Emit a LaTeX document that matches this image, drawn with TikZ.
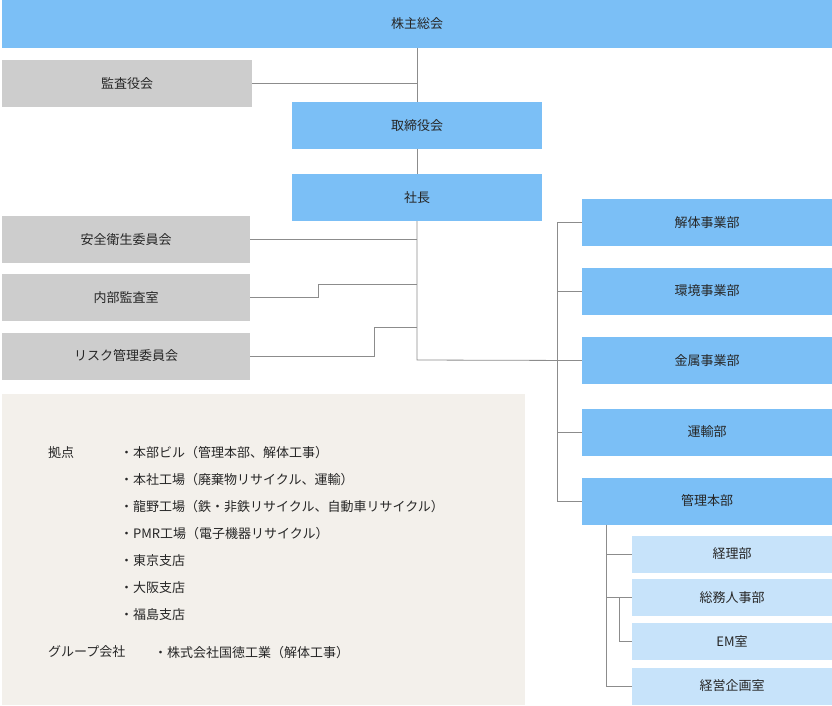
\documentclass[tikz,border=0pt]{standalone}
\usepackage{fontspec}
\setmainfont{Noto Sans CJK JP}
\begin{document}
\begin{tikzpicture}[x=1pt,y=-1pt,
  bx/.style={draw=none,minimum height=47pt,inner sep=0pt,font=\fontsize{13}{15}\selectfont,text=black!85},
  blue/.style={bx,fill=bl},
  gray/.style={bx,fill=gr},
  sub/.style={bx,fill=lb,minimum width=200pt,minimum height=37pt},
  ln/.style={draw=black!45,line width=0.8pt},
  tx/.style={anchor=west,inner sep=0pt,font=\fontsize{13}{15}\selectfont,text=black!85}]
\definecolor{bl}{HTML}{7BBFF6}
\definecolor{lb}{HTML}{C7E3FA}
\definecolor{gr}{HTML}{CDCDCD}
\definecolor{bg}{HTML}{F3F0EB}
\useasboundingbox (0,0) rectangle (832,705);
\fill[bg] (2,394) rectangle (525,705);
\node[blue,minimum width=830pt,minimum height=48pt] (sh) at (417,24) {株主総会};
\node[gray,minimum width=250pt] (ka) at (127,83.5) {監査役会};
\node[blue,minimum width=250pt] (tr) at (417,125.5) {取締役会};
\node[blue,minimum width=250pt] (pr) at (417,197.5) {社長};
\node[gray,minimum width=248pt] (an) at (126,239.5) {安全衛生委員会};
\node[gray,minimum width=248pt] (na) at (126,297.5) {内部監査室};
\node[gray,minimum width=248pt] (ri) at (126,356) {リスク管理委員会};
\node[blue,minimum width=250pt] (r1) at (707,222.5) {解体事業部};
\node[blue,minimum width=250pt] (r2) at (707,291) {環境事業部};
\node[blue,minimum width=250pt] (r3) at (707,360.5) {金属事業部};
\node[blue,minimum width=250pt] (r4) at (707,432) {運輸部};
\node[blue,minimum width=250pt] (r5) at (707,501) {管理本部};
\node[sub] (s1) at (732,554) {経理部};
\node[sub] (s2) at (732,597.5) {総務人事部};
\node[sub] (s3) at (732,641.5) {EM室};
\node[sub] (s4) at (732,686) {経営企画室};
\coordinate (m) at (417,360);
\draw[ln] (sh.south) -- (tr.north);
\draw[ln] (ka.east) -- (ka.east -| sh.south);
\draw[ln] (tr.south) -- (pr.north);
\draw[ln] (pr.south) -- (m) -- (r3.west);
\draw[ln] (an.east) -- (an.east -| m);
\draw[ln] (na.east) -- (318,297.5) -- (318,284) -- (417,284);
\draw[ln] (ri.east) -- (374,356) -- (374,327) -- (417,327);
\draw[ln] (r1.west) -- (557,222.5) -- (557,501) -- (r5.west);
\draw[ln] (r2.west) -- (557,291);
\draw[ln] (r4.west) -- (557,432);
\draw[ln] (606,524.5) -- (606,686) -- (s4.west);
\draw[ln] (s1.west) -- (606,554);
\draw[ln] (s2.west) -- (606,597.5);
\draw[ln] (619,597.5) -- (619,641.5) -- (s3.west);
\node[tx] (k) at (48,453) {拠点};
\node[tx] (k1) at (120,453) {・本部ビル（管理本部、解体工事）};
\node[tx] (k2) at (120,480) {・本社工場（廃棄物リサイクル、運輸）};
\node[tx] (k3) at (120,507) {・龍野工場（鉄・非鉄リサイクル、自動車リサイクル）};
\node[tx] (k4) at (120,534) {・PMR工場（電子機器リサイクル）};
\node[tx] (k5) at (120,561) {・東京支店};
\node[tx] (k6) at (120,588) {・大阪支店};
\node[tx] (k7) at (120,615) {・福島支店};
\node[tx] (g) at (48,652) {グループ会社};
\node[tx] (g1) at (154,653) {・株式会社国徳工業（解体工事）};
\end{tikzpicture}
\end{document}
